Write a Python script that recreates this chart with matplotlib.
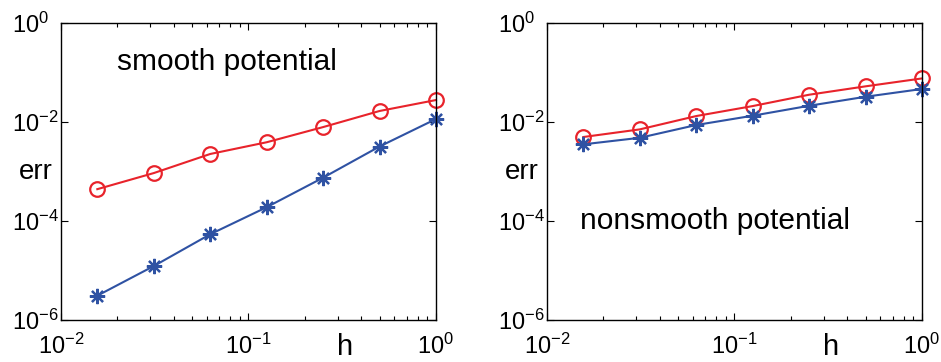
import numpy as np
import matplotlib
matplotlib.use("Agg")
import matplotlib.pyplot as plt
from matplotlib.ticker import LogLocator, FixedLocator, NullLocator, FuncFormatter, NullFormatter

plt.rcParams['font.family'] = ['Liberation Sans', 'DejaVu Sans']
plt.rcParams['mathtext.fontset'] = 'custom'
plt.rcParams['mathtext.rm'] = 'Liberation Sans'

h = [1/64, 1/32, 1/16, 1/8, 1/4, 1/2, 1]

# smooth potential
smooth_red = [4.4e-4, 9.3e-4, 2.26e-3, 3.9e-3, 7.9e-3, 1.67e-2, 2.78e-2]
smooth_blue = [3.1e-6, 1.23e-5, 5.4e-5, 1.9e-4, 7.5e-4, 3.2e-3, 1.15e-2]

# nonsmooth potential
nonsmooth_red = [4.98e-3, 7.1e-3, 1.32e-2, 2.1e-2, 3.56e-2, 5.26e-2, 7.6e-2]
nonsmooth_blue = [3.54e-3, 4.8e-3, 8.7e-3, 1.34e-2, 2.13e-2, 3.24e-2, 4.65e-2]

titles = ["smooth potential", "nonsmooth potential"]
red_c = "#e8232b"
blue_c = "#2f52a3"


def pow10(v, pos):
    e = int(round(np.log10(v)))
    return r'$\mathregular{10^{%d}}$' % e


fig = plt.figure(figsize=(9.41, 3.62), dpi=100)
ax1 = fig.add_axes([0.0648, 0.116, 0.3985, 0.8204])
ax2 = fig.add_axes([0.5813, 0.116, 0.3985, 0.8204])

panels = [(ax1, smooth_red, smooth_blue), (ax2, nonsmooth_red, nonsmooth_blue)]
for ax, red, blue in panels:
    ax.loglog(h, red, '-o', color=red_c, mfc='none', mec=red_c, ms=10.5, mew=1.6, lw=1.5, clip_on=False)
    # matlab style asterisk marker
    ax.loglog(h, blue, '-', marker=(8, 2, 0), color=blue_c, mec=blue_c, ms=11, mew=1.6, lw=1.5, clip_on=False)
    ax.set_xlim(1e-2, 1)
    ax.set_ylim(1e-6, 1)
    ax.xaxis.set_major_locator(LogLocator(base=10, numticks=5))
    ax.xaxis.set_minor_locator(LogLocator(base=10, subs=np.arange(2, 10), numticks=10))
    ax.xaxis.set_minor_formatter(NullFormatter())
    ax.yaxis.set_major_locator(FixedLocator([1e-6, 1e-4, 1e-2, 1]))
    ax.yaxis.set_minor_locator(NullLocator())
    ax.xaxis.set_major_formatter(FuncFormatter(pow10))
    ax.yaxis.set_major_formatter(FuncFormatter(pow10))
    ax.tick_params(which='both', direction='in', top=True, right=True, labelsize=17, width=0.8)
    ax.tick_params(which='major', length=5)
    ax.tick_params(which='minor', length=3)
    ax.tick_params(axis='x', pad=10)
    ax.tick_params(axis='y', pad=35)
    plt.setp(ax.get_yticklabels(), ha='left')
    for s in ax.spines.values():
        s.set_linewidth(1.0)
    ax.text(-0.112, 0.5, "err", transform=ax.transAxes, fontsize=20, ha='left', va='center')
    ax.text(0.758, -0.044, "h", transform=ax.transAxes, fontsize=21, ha='center', va='top')

ax1.text(0.15, 0.87, titles[0], transform=ax1.transAxes, fontsize=21.5, ha='left', va='center')
ax2.text(0.088, 0.335, titles[1], transform=ax2.transAxes, fontsize=21.5, ha='left', va='center')

fig.savefig("out.png", dpi=100)
